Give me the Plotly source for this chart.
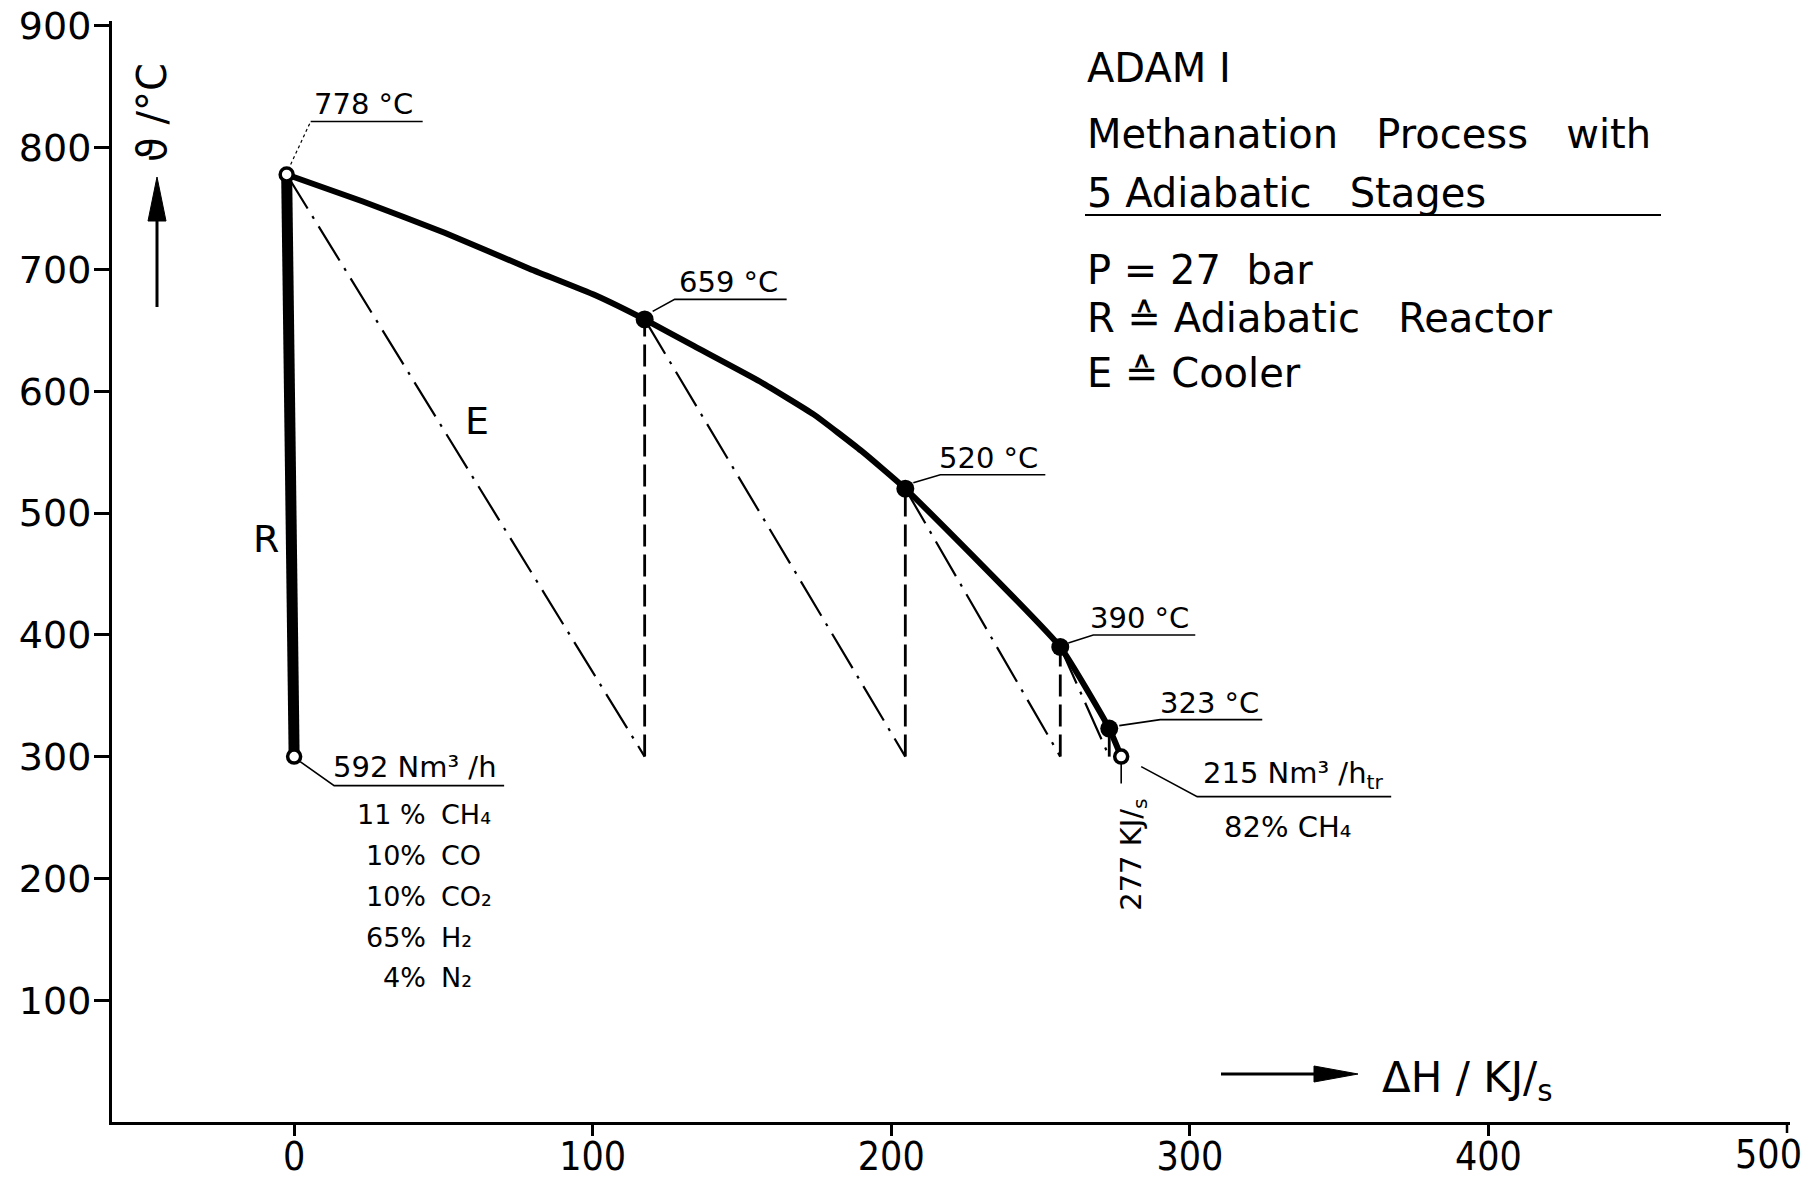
import plotly.graph_objects as go

# ---------------- data ----------------
curve_dH = [-2.5, 22.8, 50.6, 78.4, 100.7, 117.4, 134.0, 156.0, 174.0, 190.0, 204.7, 256.6, 273.0, 277.0]
curve_T = [778, 756, 730, 701, 679, 659, 637, 608, 581, 551, 520, 390, 323, 300]

stage_dH = [-2.5, 117.4, 204.7, 256.6, 273.0]
stage_T = [778, 659, 520, 390, 323]
stage_labels = ["778 °C", "659 °C", "520 °C", "390 °C", "323 °C"]

inlet_dH, inlet_T = 0.0, 300
outlet_dH, outlet_T = 277.0, 300

x_ticks = [0, 100, 200, 300, 400]
x_last_tick = 500
y_ticks = [100, 200, 300, 400, 500, 600, 700, 800, 900]

comp_pct = ["11 %", "10%", "10%", "65%", "4%"]
comp_gas = ["CH\u2084", "CO", "CO\u2082", "H\u2082", "N\u2082"]

inlet_label = "592 Nm³ /h"
outlet_label = "215 Nm³ /h<sub>tr</sub>"
outlet_comp = "82% CH\u2084"
outlet_duty = "277 KJ/<sub>s</sub>"

title_lines = ["ADAM I",
               "Methanation\u00a0\u00a0 Process\u00a0\u00a0 with",
               "5 Adiabatic\u00a0\u00a0 Stages",
               "P = 27\u00a0 bar",
               "R \u2259 Adiabatic\u00a0\u00a0 Reactor",
               "E \u2259 Cooler"]

# ---------------- layout geometry ----------------
# the page body margin is removed (post_script), so the figure fills the window
W, H = 1815, 1179
ML, MR, MT, MB = 112, 25, 21, 57
FONT = "DejaVu Sans"
TICKFONT_X = dict(family="DejaVu Sans Condensed", size=39, color="black")
PW = W - ML - MR
PH = H - MT - MB


def px(p):
    """window pixel x -> paper x"""
    return (p - ML) / PW


def py(p):
    """window pixel y -> paper y"""
    return (H - MB - p) / PH


fig = go.Figure()

# cooler lines (dash-dot): stage exit -> next stage inlet (300 °C)
for i in range(len(stage_dH) - 1):
    fig.add_trace(go.Scatter(
        x=[stage_dH[i], stage_dH[i + 1]], y=[stage_T[i], inlet_T],
        mode="lines", line=dict(color="black", width=2.2, dash="40px,9px,3px,9px"),
        hoverinfo="skip"))

# reactor lines of stages 2..5 (dashed verticals)
for i in range(1, len(stage_dH)):
    fig.add_trace(go.Scatter(
        x=[stage_dH[i], stage_dH[i]], y=[inlet_T, stage_T[i]],
        mode="lines", line=dict(color="black", width=2.8, dash="22px,8px"),
        hoverinfo="skip"))

# first reactor (thick)
fig.add_trace(go.Scatter(
    x=[inlet_dH, stage_dH[0]], y=[inlet_T, stage_T[0]],
    mode="lines", line=dict(color="black", width=11), hoverinfo="skip"))

# main curve
fig.add_trace(go.Scatter(
    x=curve_dH, y=curve_T, mode="lines",
    line=dict(color="black", width=6, shape="spline", smoothing=0.4), hoverinfo="skip"))

# filled stage points
fig.add_trace(go.Scatter(
    x=stage_dH[1:], y=stage_T[1:], mode="markers",
    marker=dict(color="black", size=18, line=dict(width=0)), hoverinfo="skip"))

# open points
fig.add_trace(go.Scatter(
    x=[inlet_dH, stage_dH[0], outlet_dH], y=[inlet_T, stage_T[0], outlet_T], mode="markers",
    marker=dict(color="white", size=13, line=dict(color="black", width=3.5)), hoverinfo="skip"))

annotations = []
shapes = []


def leader(x, y, pts, width=1.6, dash="solid"):
    path = "M " + " L ".join(f"{a},{-b}" for a, b in pts)
    shapes.append(dict(type="path", xref="x", yref="y", xsizemode="pixel", ysizemode="pixel",
                       xanchor=x, yanchor=y, path=path,
                       line=dict(color="black", width=width, dash=dash)))


def label(x, y, text, dx, dy, size=29, xanchor="center", textangle=0):
    annotations.append(dict(x=x, y=y, xref="x", yref="y", text=text, showarrow=False,
                            xanchor=xanchor, yanchor="middle", xshift=dx, yshift=-dy,
                            textangle=textangle,
                            font=dict(family=FONT, size=size, color="black")))


def page_text(text, X, Y, size, xanchor="center", textangle=0):
    annotations.append(dict(x=px(X), y=py(Y), xref="paper", yref="paper", text=text,
                            xanchor=xanchor, yanchor="middle", showarrow=False,
                            textangle=textangle,
                            font=dict(family=FONT, size=size, color="black")))


# stage temperature labels: (leader start, corner, underline end, text centre) in px offsets
label_geom = [
    ((4, -10), (24, -53), (136, -53), (77, -70)),
    ((8, -8), (30, -20), (142, -20), (84, -37)),
    ((8, -6), (35, -14), (140, -14), (83, -31)),
    ((8, -4), (33, -12), (135, -12), (79, -29)),
    ((10, -3), (51, -9), (153, -9), (100, -26)),
]
for i, (s, c, e, t) in enumerate(label_geom):
    if i == 0:
        leader(stage_dH[i], stage_T[i], [s, c], width=1.2, dash="dot")
        leader(stage_dH[i], stage_T[i], [c, e])
    else:
        leader(stage_dH[i], stage_T[i], [s, c, e])
    label(stage_dH[i], stage_T[i], stage_labels[i], t[0], t[1])

# inlet labels
leader(inlet_dH, inlet_T, [(6, 5), (40, 29), (210, 29)])
label(inlet_dH, inlet_T, inlet_label, 121, 10)
comp_dy = [58, 99, 140, 181, 221]
for p, g, d in zip(comp_pct, comp_gas, comp_dy):
    label(inlet_dH, inlet_T, p, 134, d, size=27, xanchor="right")
    label(inlet_dH, inlet_T, g, 145, d, size=27, xanchor="left")

# outlet labels
leader(outlet_dH, outlet_T, [(20, 10), (76, 40), (270, 40)])
leader(outlet_dH, outlet_T, [(0, 7), (0, 27)])
label(outlet_dH, outlet_T, outlet_label, 172, 18)
label(outlet_dH, outlet_T, outlet_comp, 166, 70)
label(outlet_dH, outlet_T, outlet_duty, 11, 98, textangle=-90)

# R / E labels
page_text("R", 266, 539, 38)
page_text("E", 477, 421, 38)

# title block (top right)
title_y = [68, 134, 193, 270, 318, 373]
for txt, Y in zip(title_lines, title_y):
    page_text(txt, 1085, Y, 40, xanchor="left")
shapes.append(dict(type="line", xref="paper", yref="paper", x0=px(1085), x1=px(1661),
                   y0=py(215), y1=py(215), line=dict(color="black", width=2)))

# axis titles with arrows (arrows drawn as shapes)
page_text("\u03d1 /°C", 152, 113, 40, textangle=-90)
shapes.append(dict(type="line", xref="paper", yref="paper", x0=px(157), x1=px(157),
                   y0=py(307), y1=py(215), line=dict(color="black", width=3)))
shapes.append(dict(type="path", xref="paper", yref="paper",
                   path=f"M {px(148)},{py(221)} L {px(157)},{py(177)} L {px(166)},{py(221)} Z",
                   fillcolor="black", line=dict(color="black", width=1)))

page_text("\u0394H / KJ/<sub>s</sub>", 1380, 1080, 42, xanchor="left")
shapes.append(dict(type="line", xref="paper", yref="paper", x0=px(1221), x1=px(1318),
                   y0=py(1074), y1=py(1074), line=dict(color="black", width=3)))
shapes.append(dict(type="path", xref="paper", yref="paper",
                   path=f"M {px(1314)},{py(1066)} L {px(1358)},{py(1074)} L {px(1314)},{py(1082)} Z",
                   fillcolor="black", line=dict(color="black", width=1)))

# last x tick (500) at the right end of the axis; its label is kept inside the page
shapes.append(dict(type="line", xref="x", yref="paper", ysizemode="pixel", yanchor=0,
                   x0=x_last_tick, x1=x_last_tick, y0=0, y1=-11,
                   line=dict(color="black", width=2.5)))
annotations.append(dict(x=x_last_tick, y=py(1154), xref="x", yref="paper", text=str(x_last_tick),
                        xanchor="right", yanchor="middle", xshift=17, showarrow=False,
                        font=TICKFONT_X))

fig.update_layout(
    width=W, height=H,
    margin=dict(l=ML, r=MR, t=MT, b=MB, pad=0, autoexpand=False),
    paper_bgcolor="white", plot_bgcolor="white",
    showlegend=False,
    font=dict(family=FONT, color="black"),
    annotations=annotations, shapes=shapes,
    xaxis=dict(range=[-61, 501], showgrid=False, zeroline=False, showline=True,
               linecolor="black", linewidth=3, ticks="outside", ticklen=11, tickwidth=2.5,
               tickcolor="black", tickvals=x_ticks, ticktext=[str(v) for v in x_ticks],
               automargin=False, ticklabeloverflow="allow", ticklabelstandoff=-13,
               tickfont=TICKFONT_X),
    yaxis=dict(range=[0, 904], showgrid=False, zeroline=False, showline=True,
               linecolor="black", linewidth=3, ticks="outside", ticklen=15, tickwidth=2.5,
               tickcolor="black", tickvals=y_ticks, ticktext=[str(v) for v in y_ticks],
               automargin=False, ticklabeloverflow="allow", ticklabelstandoff=-5,
               tickfont=dict(family=FONT, size=38, color="black")),
)

fig.write_html("out.html", config={"displayModeBar": False},
               post_script="document.body.style.margin='0';document.body.style.padding='0';")
